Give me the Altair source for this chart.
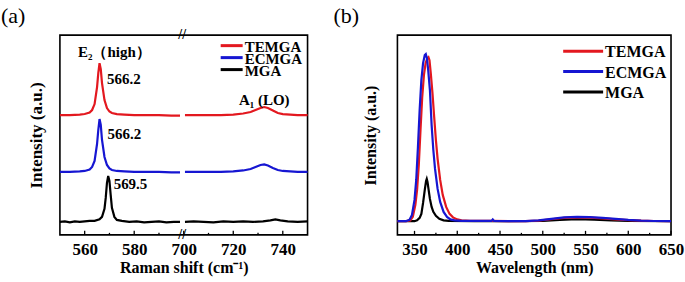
import altair as alt
import pandas as pd

SERIES = ["TEMGA", "ECMGA", "MGA"]
COLORS = ["#e3181f", "#1616d2", "#000000"]
FONT = "Liberation Serif"

# ---------------- Panel (a): Raman (axis broken between 600 and 700) ----------------
te_lo_x = [550, 554, 558, 560, 562, 563, 564, 565, 565.5, 566, 566.5, 567, 568, 569, 570, 571, 573, 576, 580, 585, 590, 595, 598.5]
te_lo_y = [120, 120, 120.5, 121, 122.5, 125, 131, 148, 162, 172, 166, 152, 135, 127, 123.5, 122, 121, 120.5, 120, 120, 120, 119.5, 119.5]
ec_lo_x = te_lo_x
ec_lo_y = [63, 63, 63.5, 64, 65.5, 68, 74, 91, 105, 116, 110, 95, 78, 70, 66.5, 65, 64, 63.5, 63, 63, 63, 62.5, 62.5]
mg_lo_x = [550, 552, 554, 556, 558, 560, 562, 564, 566, 567, 568, 568.5, 569, 569.5, 570, 570.5, 571, 572, 573, 575, 578, 581, 584, 587, 590, 593, 596, 598.5]
mg_lo_y = [13, 13.5, 12.5, 13.5, 13, 13.5, 14, 14, 15.5, 18, 26, 37, 52, 59, 54, 40, 27, 18, 15, 14, 13, 13.5, 12.5, 13, 13.5, 12.5, 13, 13]
te_hi_x = [700.5, 705, 710, 715, 720, 724, 727, 729, 731, 732.5, 734, 736, 738, 740, 743, 746, 750]
te_hi_y = [120, 120, 120, 120, 120.5, 121.5, 123, 125, 127, 128, 127, 124.5, 122, 121, 120.5, 120, 120]
ec_hi_x = te_hi_x
ec_hi_y = [63, 63, 63, 63, 63.5, 64.5, 66, 68, 70, 70.5, 69.5, 67, 65, 64, 63.5, 63, 63]
mg_hi_x = [700.5, 704, 708, 712, 716, 720, 724, 728, 732, 735, 737, 739, 742, 746, 750]
mg_hi_y = [13, 13.5, 13, 12.5, 13.5, 13, 13.5, 13, 13.5, 14.5, 15.5, 14.5, 13.5, 13, 13.5]

BREAK_LO, BREAK_HI = 600, 700
raman_major = [560, 580, 700, 720, 740]
raman_minor = [570, 590, 710, 730]

# ---------------- Panel (b): PL ----------------
pl_te_x = [330, 340, 345, 348, 351, 353, 355, 357, 359, 361, 363, 365, 366.3, 367.5, 369, 371, 373, 375, 377, 380, 383, 387, 391, 395, 400, 405, 415, 440, 460, 480, 495, 510, 525, 540, 555, 570, 585, 600, 615, 630, 650]
pl_te_y = [13.7, 13.7, 14.5, 18, 30, 45, 70, 105, 138, 160, 172, 177, 178, 175, 162, 142, 118, 95, 76, 55, 40, 28, 21, 17.5, 15.5, 14.5, 14, 14, 13.7, 13.7, 14.3, 15.6, 17, 17.5, 17.2, 16.5, 15.6, 14.8, 14.2, 13.9, 13.7]
pl_ec_x = [330, 340, 344, 347, 350, 352, 354, 356, 358, 360, 362, 363.2, 364.5, 366, 368, 370, 372, 374, 377, 380, 384, 388, 392, 397, 405, 420, 440, 441.5, 443, 460, 480, 495, 510, 525, 540, 555, 570, 585, 600, 615, 630, 650]
pl_ec_y = [13.7, 13.7, 15, 20, 35, 55, 88, 125, 155, 172, 180, 181, 177, 165, 145, 110, 85, 66, 46, 33, 23, 18, 15.5, 14.5, 14, 14, 14, 15.5, 14, 13.7, 13.7, 14.5, 16, 17.5, 18, 17.8, 17, 16, 15, 14.3, 13.9, 13.7]
pl_mg_x = [330, 350, 353, 356, 358, 360, 362, 363.5, 364.3, 365.2, 366.5, 368, 370, 372, 375, 379, 384, 390, 420, 460, 500, 520, 540, 560, 580, 600, 650]
pl_mg_y = [13.7, 13.7, 14.5, 17, 21, 32, 45, 54, 56, 53, 45, 36, 28, 23, 19, 16, 14.5, 14, 13.8, 13.7, 14, 15, 15.8, 15.3, 14.5, 14, 13.7]
pl_major = [350, 400, 450, 500, 550, 600, 650]
pl_minor = [375, 425, 475, 525, 575, 625]


def raman_pos(v):
    return v - (BREAK_HI - BREAK_LO) if v >= BREAK_HI else v


rows = []
for name, segs in [("TEMGA", [(te_lo_x, te_lo_y), (te_hi_x, te_hi_y)]),
                   ("ECMGA", [(ec_lo_x, ec_lo_y), (ec_hi_x, ec_hi_y)]),
                   ("MGA", [(mg_lo_x, mg_lo_y), (mg_hi_x, mg_hi_y)])]:
    for si, (xs, ys) in enumerate(segs):
        for xv, yv in zip(xs, ys):
            rows.append({"x": raman_pos(xv), "y": yv, "series": name, "seg": si})
raman_df = pd.DataFrame(rows)

pl_rows = []
for name, xs, ys in [("TEMGA", pl_te_x, pl_te_y), ("ECMGA", pl_ec_x, pl_ec_y), ("MGA", pl_mg_x, pl_mg_y)]:
    for xv, yv in zip(xs, ys):
        pl_rows.append({"x": xv, "y": yv, "series": name})
pl_df = pd.DataFrame(pl_rows)

color_scale = alt.Scale(domain=SERIES, range=COLORS)
yscale = alt.Scale(domain=[0, 200], nice=False, zero=False)
leg_df = pd.DataFrame({"series": SERIES, "i": list(range(len(SERIES)))})


def legend_layers(x1, x2, y0, pitch, font):
    base = alt.Chart(leg_df).transform_calculate(ly=f"{y0} + datum.i * {pitch}")
    lines = base.mark_rule(strokeWidth=3).encode(
        x=alt.value(x1), x2=alt.value(x2), y=alt.Y("ly:Q", scale=None),
        color=alt.Color("series:N", scale=color_scale, legend=None))
    labels = base.mark_text(font=FONT, fontSize=font, fontWeight="bold", align="left",
                            baseline="middle", color="black", dy=1).encode(
        x=alt.value(x2 + 2), y=alt.Y("ly:Q", scale=None), text="series:N")
    return [lines, labels]


W1, W2, H = 248, 274, 200

# ---------- left panel ----------
xs_a = alt.Scale(domain=[550, 650], nice=False, zero=False)
x_axis_a = alt.Axis(values=[raman_pos(v) for v in raman_major],
                    labelExpr=f"datum.value >= {BREAK_LO} ? datum.value + {BREAK_HI - BREAK_LO} : datum.value",
                    ticks=False, domain=False, grid=False, title="Raman shift (cm⁻¹)",
                    labelPadding=7, titlePadding=2, labelOverlap=False, labelFlush=False)
y_axis_a = alt.Axis(labels=False, ticks=False, domain=False, grid=False,
                    title="Intensity (a.u.)", titlePadding=14, titleFontSize=17)

lines_a = []
for s in ["MGA", "TEMGA", "ECMGA"]:
    lines_a.append(
        alt.Chart(raman_df).transform_filter(alt.datum.series == s)
        .mark_line(strokeWidth=2.2)
        .encode(x=alt.X("x:Q", scale=xs_a, axis=x_axis_a),
                y=alt.Y("y:Q", scale=yscale, axis=y_axis_a),
                color=alt.Color("series:N", scale=color_scale, legend=None),
                detail="seg:N", order="x:Q")
    )

tick_a = pd.DataFrame({"x": [raman_pos(v) for v in raman_major] + [raman_pos(v) for v in raman_minor],
                       "len": [4] * len(raman_major) + [2] * len(raman_minor)})
tick_a["y0"] = 0
ticks_a = alt.Chart(tick_a).mark_rule(color="black", strokeWidth=1.3).encode(
    x=alt.X("x:Q", scale=xs_a), y=alt.Y("y0:Q", scale=yscale), y2="len:Q")

ann_a = pd.DataFrame({
    "x": [569, 569.2, 571.7, 557.3, raman_pos(722.3)],
    "y": [156, 101, 51, 183, 135],
    "t": ["566.2", "566.2", "569.5", "E₂（high）", "A₁ (LO)"],
})
text_a = alt.Chart(ann_a).mark_text(font=FONT, fontSize=15, fontWeight="bold", align="left",
                                    baseline="middle", color="black").encode(
    x=alt.X("x:Q", scale=xs_a), y=alt.Y("y:Q", scale=yscale), text="t:N")

brk = pd.DataFrame({"x": [BREAK_LO - 0.6, BREAK_LO - 0.6], "y": [200, 0]})
break_a = alt.Chart(brk).mark_text(text="//", font=FONT, fontSize=14, fontWeight="bold",
                                   baseline="middle", color="black").encode(
    x=alt.X("x:Q", scale=xs_a), y=alt.Y("y:Q", scale=yscale))

lab_a = alt.Chart(pd.DataFrame({"t": ["(a)"]})).mark_text(font=FONT, fontSize=22, align="left",
                                                          baseline="top", color="black").encode(
    x=alt.value(-59), y=alt.value(-29), text="t:N")

left = alt.layer(*lines_a, ticks_a, text_a, break_a, lab_a,
                 *legend_layers(161, 183, 10.5, 12, 15)).properties(width=W1, height=H)

# ---------- right panel ----------
xs_b = alt.Scale(domain=[330, 650], nice=False, zero=False)
x_axis_b = alt.Axis(values=pl_major, ticks=False, domain=False, grid=False, title="Wavelength (nm)",
                    labelPadding=7, titlePadding=2, labelOverlap=False, labelFlush=False)
y_axis_b = alt.Axis(labels=False, ticks=False, domain=False, grid=False,
                    title="Intensity (a.u.)", titlePadding=19, titleFontSize=16)

lines_b = []
for s in ["MGA", "TEMGA", "ECMGA"]:
    lines_b.append(
        alt.Chart(pl_df).transform_filter(alt.datum.series == s)
        .mark_line(strokeWidth=2.2)
        .encode(x=alt.X("x:Q", scale=xs_b, axis=x_axis_b),
                y=alt.Y("y:Q", scale=yscale, axis=y_axis_b),
                color=alt.Color("series:N", scale=color_scale, legend=None),
                order="x:Q")
    )

tick_b = pd.DataFrame({"x": pl_major + pl_minor, "len": [4] * len(pl_major) + [2] * len(pl_minor)})
tick_b["y0"] = 0
ticks_b = alt.Chart(tick_b).mark_rule(color="black", strokeWidth=1.3).encode(
    x=alt.X("x:Q", scale=xs_b), y=alt.Y("y0:Q", scale=yscale), y2="len:Q")

lab_b = alt.Chart(pd.DataFrame({"t": ["(b)"]})).mark_text(font=FONT, fontSize=22, align="left",
                                                          baseline="top", color="black").encode(
    x=alt.value(-64), y=alt.value(-29), text="t:N")

right = alt.layer(*lines_b, ticks_b, lab_b,
                  *legend_layers(166, 206, 16, 20.5, 16)).properties(width=W2, height=H)

chart = (
    alt.hconcat(left, right, spacing=90, bounds="flush")
    .resolve_scale(color="independent")
    .properties(padding={"left": 0, "top": 4, "right": 0, "bottom": 0}, background="white")
    .configure_view(stroke="black", strokeWidth=1.6)
    .configure_axis(labelFont=FONT, labelFontSize=17, labelFontWeight="bold", labelColor="black",
                    titleFont=FONT, titleFontSize=16, titleFontWeight="bold", titleColor="black")
)

chart.save("out.html", embed_options={"renderer": "svg", "actions": False})
